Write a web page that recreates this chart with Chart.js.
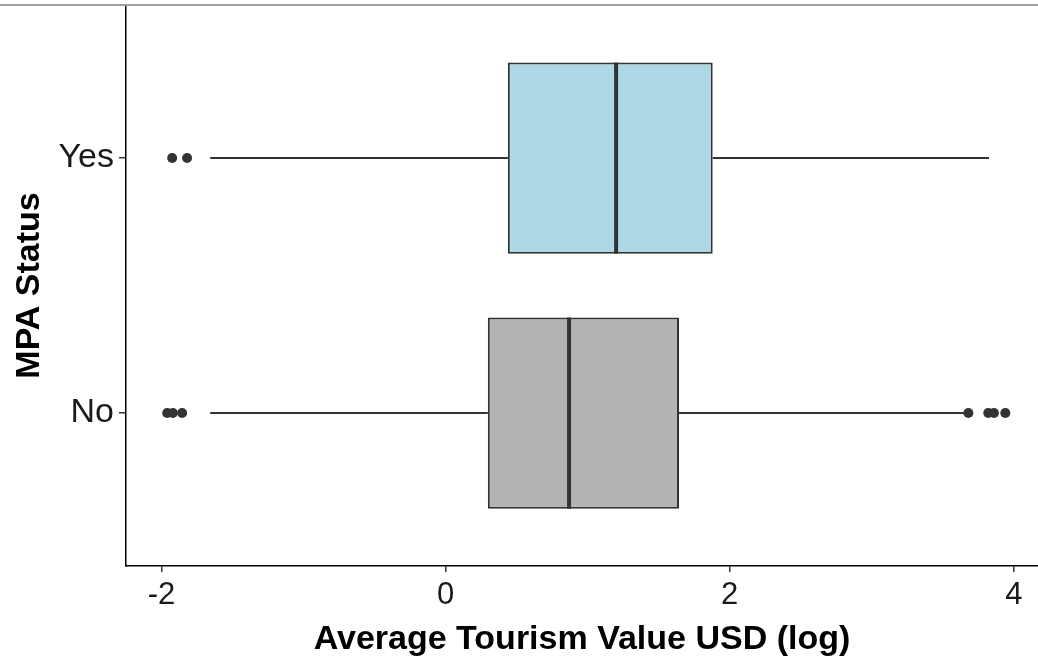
<!DOCTYPE html>
<html lang="en">
<head>
  <meta charset="UTF-8" />
  <title>MPA Status boxplot</title>
  <script src="https://cdn.jsdelivr.net/npm/chart.js"></script>
  <style>
    body { margin: 0; background: #fff; }
    .wrap { position: relative; width: 1038px; height: 663px; }
    /* thin grey edge along the top of the original image */
    .topline { position: absolute; left: 0; top: 4px; width: 1038px; height: 2px; background: #a0a0a0; }
  </style>
</head>
<body>
  <div class="wrap">
    <canvas id="box" width="1038" height="663"></canvas>
    <div class="topline"></div>
  </div>

  <script>
    // Box summaries (log USD)
    const categories = ['No', 'Yes'];
    const q1 = [0.297, 0.438];
    const median = [0.869, 1.20];
    const q3 = [1.643, 1.880];
    const whiskerLow = [-1.657, -1.657];
    const whiskerHigh = [3.66, 3.825];
    const outliers = [
      [-1.96, -1.92, -1.855, 3.68, 3.82, 3.86, 3.94],
      [-1.925, -1.82]
    ];
    const xTicks = [-2, 0, 2, 4];
    const boxColors = ['#b4b4b4', '#add8e6'];

    const BOX_WIDTH = 0.75;
    const ink = '#333333';

    const datasets = [];

    // boxes as floating bars
    datasets.push({
      type: 'bar',
      indexAxis: 'y',
      data: categories.map((c, i) => ({ y: i + 1, x: [q1[i], q3[i]] })),
      backgroundColor: boxColors,
      borderColor: ink,
      borderWidth: 2,
      borderSkipped: false,
      barPercentage: BOX_WIDTH,
      categoryPercentage: 1,
      order: 2
    });

    categories.forEach((c, i) => {
      const y = i + 1;
      // whiskers
      [[whiskerLow[i], q1[i]], [q3[i], whiskerHigh[i]]].forEach(seg => {
        datasets.push({
          type: 'scatter',
          showLine: true,
          data: [{ x: seg[0], y: y }, { x: seg[1], y: y }],
          borderColor: ink,
          borderWidth: 2,
          pointRadius: 0,
          order: 3
        });
      });
      // median
      datasets.push({
        type: 'scatter',
        showLine: true,
        data: [{ x: median[i], y: y - BOX_WIDTH / 2 }, { x: median[i], y: y + BOX_WIDTH / 2 }],
        borderColor: ink,
        borderWidth: 4,
        pointRadius: 0,
        order: 0
      });
      // outliers
      datasets.push({
        type: 'scatter',
        data: outliers[i].map(v => ({ x: v, y: y })),
        backgroundColor: ink,
        borderWidth: 0,
        pointRadius: 5,
        order: 1
      });
    });

    new Chart(document.getElementById('box'), {
      type: 'bar',
      data: { datasets: datasets },
      options: {
        responsive: false,
        animation: false,
        devicePixelRatio: 1,
        layout: { autoPadding: false, padding: { top: 5, right: 0, left: 0, bottom: 0 } },
        plugins: { legend: { display: false }, tooltip: { enabled: false } },
        scales: {
          x: {
            type: 'linear',
            min: -2.25,
            max: 4.17,
            offset: false,
            afterBuildTicks: s => { s.ticks = xTicks.map(v => ({ value: v })); },
            afterFit: s => { s.height = 97; s.paddingLeft = 0; s.paddingRight = 0; },
            grid: { display: true, offset: false, drawOnChartArea: false, drawTicks: true, tickLength: 6, color: ink, lineWidth: 1.5 },
            border: { display: true, color: '#000', width: 1.5 },
            ticks: { color: '#1a1a1a', font: { family: 'Liberation Sans, Arial', size: 31 }, padding: 5, maxRotation: 0 },
            title: {
              display: true,
              text: 'Average Tourism Value USD (log)',
              color: '#000',
              font: { family: 'Liberation Sans, Arial', size: 34, weight: 'bold' },
              padding: { top: 0, bottom: 3 }
            }
          },
          y: {
            type: 'linear',
            min: 0.4,
            max: 2.6,
            offset: false,
            afterBuildTicks: s => { s.ticks = categories.map((c, i) => ({ value: i + 1 })); },
            afterFit: s => { s.width = 126; s.paddingTop = 0; s.paddingBottom = 0; },
            grid: { display: true, offset: false, drawOnChartArea: false, drawTicks: true, tickLength: 7, color: ink, lineWidth: 1.5 },
            border: { display: true, color: '#000', width: 1.5 },
            ticks: {
              color: '#1a1a1a',
              font: { family: 'Liberation Sans, Arial', size: 34 },
              padding: 5,
              callback: v => categories[v - 1]
            },
            title: {
              display: true,
              text: 'MPA Status',
              color: '#000',
              font: { family: 'Liberation Sans, Arial', size: 34, weight: 'bold' },
              padding: { top: 9, bottom: 0 }
            }
          }
        }
      }
    });
  </script>
</body>
</html>
